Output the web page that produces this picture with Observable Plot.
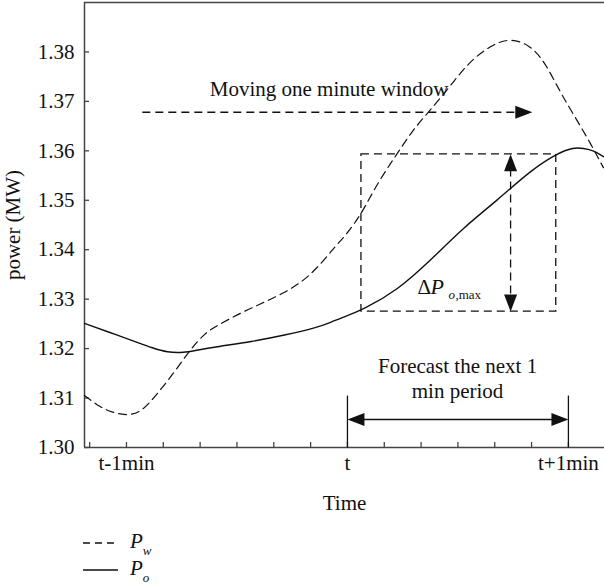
<!DOCTYPE html>
<html>
<head>
<meta charset="utf-8">
<script src="https://cdn.jsdelivr.net/npm/d3@7"></script>
<script src="https://cdn.jsdelivr.net/npm/@observablehq/plot@0.6"></script>
<style>
  body { margin: 0; background: #fff; }
  #chart { width: 604px; font-family: "Liberation Serif", "DejaVu Serif", serif; }
  .legend { position: relative; height: 62px; font-family: "Liberation Serif", serif; font-size: 21px; color: #111; }
  .legend .item { position: absolute; left: 83px; height: 20px; }
  .legend svg { position: absolute; left: 0; top: 0; }
  .legend .lab { position: absolute; left: 47px; top: -5px; white-space: nowrap; }
  .legend sub { font-size: 13px; position: relative; top: 2px; }
</style>
</head>
<body>
<div id="chart"></div>
<script>
// ---- data (time in seconds relative to t, power in MW) ----
const pwTime  = [-71.4,-67.1,-63.8,-60.3,-56.2,-51.6,-47.2,-42.9,-38.8,-35.3,-28.8,-23.4,-17.1,-11.7,-7.1,-3.3,0,3.8,7.1,10.9,13.6,17.6,22.0,27.4,32.9,38.8,44.3,49.7,53.2,55.9,58.6,62.4,66.0,69.5];
const pwPower = [1.3105,1.3081,1.3071,1.3065,1.3069,1.3109,1.3150,1.3196,1.3231,1.3247,1.3273,1.3291,1.3313,1.3338,1.3372,1.3407,1.3433,1.3473,1.3520,1.3566,1.3595,1.3641,1.3678,1.3726,1.3779,1.3813,1.3829,1.3813,1.3783,1.3746,1.3708,1.3661,1.3615,1.3566];
const poTime  = [-71.4,-62.4,-56.2,-53.2,-48.9,-44.3,-41.5,-35.3,-26.1,-17.1,-8.1,-4.6,0,3.8,13.6,22.5,31.5,40.7,49.7,57.0,61.4,64.1,66.8,69.8];
const poPower = [1.3251,1.3227,1.3210,1.3202,1.3192,1.3192,1.3196,1.3204,1.3214,1.3227,1.3243,1.3253,1.3267,1.3277,1.3318,1.3378,1.3445,1.3500,1.3560,1.3595,1.3607,1.3605,1.3601,1.3587];

const xTickValues = [-60, 0, 60];
const xTickLabels = ["t-1min", "t", "t+1min"];
const xMinorTicks = [-70,-60,-50,-40,-30,-20,-10,0,10,20,30,40,50,60];
const yTickValues = [1.30,1.31,1.32,1.33,1.34,1.35,1.36,1.37,1.38];

// annotation geometry (data units)
const windowArrow = [{x1: -55.7, x2: 47, y: 1.3678}];
const windowHead  = [{x: 50.2, y: 1.3678, angle: 0}];
const windowLabel = [{x: -5.0, y: 1.3710, text: "Moving one minute window"}];
const deltaBox    = [{x1: 3.8, x2: 56.7, y1: 1.3275, y2: 1.3593}];
const deltaArrow  = [{x: 44.3, y1: 1.3285, y2: 1.3583}];
const deltaHeads  = [{x: 44.3, y: 1.3593, angle: -90}, {x: 44.3, y: 1.3275, angle: 90}];
const deltaLabel  = [{x: 19.0, y: 1.3311}];
const forecastArrow = [{x1: 2, x2: 58, y: 1.30566}];
const forecastHeads = [{x: 0, y: 1.30566, angle: 180}, {x: 60, y: 1.30566, angle: 0}];
const forecastBars  = [{x: 0, y1: 1.30, y2: 1.3105}, {x: 60, y1: 1.30, y2: 1.3105}];
const forecastLabel = [{x: 29.9, y: 1.3101, text: "Forecast the next 1\nmin period"}];

const pw = pwTime.map((t, i) => ({t, p: pwPower[i]}));
const po = poTime.map((t, i) => ({t, p: poPower[i]}));

const head = { draw(ctx) { ctx.moveTo(0, 0); ctx.lineTo(-17, -6.5); ctx.lineTo(-17, 6.5); ctx.closePath(); } };
const ink = "#111";
const axisInk = "#444";
const font = "Liberation Serif";
const fs = 21;

const chart = Plot.plot({
  width: 604,
  height: 522,
  marginLeft: 84,
  marginRight: 0,
  marginTop: 2,
  marginBottom: 75,
  style: {fontFamily: font, fontSize: fs + "px", color: ink, background: "#fff"},
  x: {domain: [-71.4, 69.8]},
  y: {domain: [1.30, 1.39]},
  marks: [
    // axis frame lines
    Plot.ruleX([-71.4], {stroke: axisInk, strokeWidth: 1.5}),
    Plot.ruleY([1.30], {stroke: axisInk, strokeWidth: 1.5}),
    Plot.ruleY([1.39], {stroke: axisInk, strokeWidth: 1.5}),
    // inward ticks
    Plot.axisY(yTickValues, {tickSize: 5, dx: 5, text: null, label: null, stroke: axisInk, strokeWidth: 1.3}),
    Plot.axisY(yTickValues, {tickSize: 0, tickPadding: 10, tickFormat: d3.format(".2f"), fontSize: fs, fill: ink,
      label: "power (MW)", labelAnchor: "center", labelArrow: "none", labelOffset: 79}),
    Plot.axisX(xMinorTicks, {tickSize: 5, dy: -5, text: null, label: null, stroke: axisInk, strokeWidth: 1.3}),
    Plot.axisX(xTickValues, {tickSize: 0, tickPadding: 8, tickFormat: (d, i) => xTickLabels[i], fontSize: fs, fill: ink,
      label: "Time", labelAnchor: "center", labelArrow: "none", labelOffset: 62}),
    // series
    Plot.line(pw, {x: "t", y: "p", curve: "basis", stroke: ink, strokeWidth: 1.2, strokeDasharray: "8,5"}),
    Plot.line(po, {x: "t", y: "p", curve: "basis", stroke: ink, strokeWidth: 1.4}),
    // moving window arrow
    Plot.link(windowArrow, {x1: "x1", x2: "x2", y1: "y", y2: "y", stroke: ink, strokeWidth: 1.3, strokeDasharray: "8,5"}),
    Plot.dot(windowHead, {x: "x", y: "y", rotate: "angle", symbol: head, fill: ink, stroke: "none"}),
    Plot.text(windowLabel, {x: "x", y: "y", text: "text", textAnchor: "middle", lineAnchor: "bottom", fontSize: fs, fill: ink}),
    // delta box and arrow
    Plot.rect(deltaBox, {x1: "x1", x2: "x2", y1: "y1", y2: "y2", fill: "none", stroke: ink, strokeWidth: 1.3, strokeDasharray: "8,5"}),
    Plot.link(deltaArrow, {x1: "x", x2: "x", y1: "y1", y2: "y2", stroke: ink, strokeWidth: 1.3, strokeDasharray: "8,5"}),
    Plot.dot(deltaHeads, {x: "x", y: "y", rotate: "angle", symbol: head, fill: ink, stroke: "none"}),
    Plot.text(deltaLabel, {x: "x", y: "y", text: () => "Δ", textAnchor: "start", lineAnchor: "bottom", fontSize: fs, fill: ink}),
    Plot.text(deltaLabel, {x: "x", y: "y", text: () => "P", dx: 13, textAnchor: "start", lineAnchor: "bottom", fontSize: fs + 1, fontStyle: "italic", fill: ink}),
    Plot.text(deltaLabel, {x: "x", y: "y", text: () => "o", dx: 31, dy: 5, textAnchor: "start", lineAnchor: "bottom", fontSize: 13, fontStyle: "italic", fill: ink}),
    Plot.text(deltaLabel, {x: "x", y: "y", text: () => ",max", dx: 38, dy: 5, textAnchor: "start", lineAnchor: "bottom", fontSize: 13, fill: ink}),
    // forecast arrow
    Plot.link(forecastBars, {x1: "x", x2: "x", y1: "y1", y2: "y2", stroke: ink, strokeWidth: 1.3}),
    Plot.link(forecastArrow, {x1: "x1", x2: "x2", y1: "y", y2: "y", stroke: ink, strokeWidth: 1.3}),
    Plot.dot(forecastHeads, {x: "x", y: "y", rotate: "angle", symbol: head, fill: ink, stroke: "none"}),
    Plot.text(forecastLabel, {x: "x", y: "y", text: "text", textAnchor: "middle", lineAnchor: "bottom", lineHeight: 1.15, fontSize: fs, fill: ink})
  ]
});
document.getElementById("chart").appendChild(chart);

// legend below the chart
const legend = document.createElement("div");
legend.className = "legend";
legend.innerHTML = `
  <div class="item" style="top:12px">
    <svg width="40" height="20"><line x1="0" x2="35" y1="9" y2="9" stroke="${ink}" stroke-width="1.3" stroke-dasharray="7,5"></line></svg>
    <span class="lab"><i>P</i><sub><i>w</i></sub></span>
  </div>
  <div class="item" style="top:39px">
    <svg width="40" height="20"><line x1="0" x2="35" y1="9" y2="9" stroke="${ink}" stroke-width="1.4"></line></svg>
    <span class="lab"><i>P</i><sub><i>o</i></sub></span>
  </div>`;
document.getElementById("chart").appendChild(legend);
</script>
</body>
</html>
